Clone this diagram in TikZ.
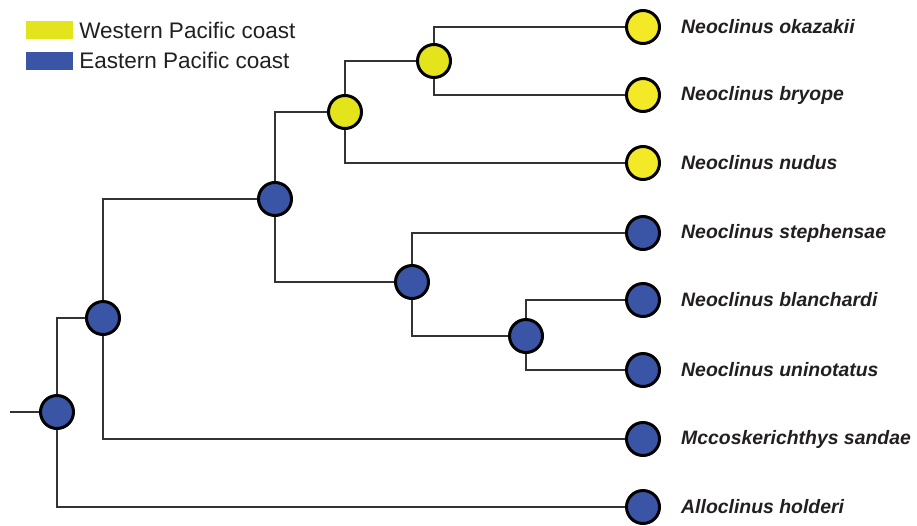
\documentclass[tikz,border=0pt]{standalone}
\usepackage{fontspec}
\setmainfont{Liberation Sans}
\usetikzlibrary{positioning}

\definecolor{westcol}{HTML}{E4E41C}
\definecolor{westtip}{HTML}{F4E926}
\definecolor{eastcol}{HTML}{3A55A5}
\definecolor{branchcol}{HTML}{333333}
\definecolor{textcol}{HTML}{231F20}

\begin{document}
\begin{tikzpicture}[
    x=1pt, y=-1pt,
    state/.style={
        circle, draw=black, line width=3pt,
        minimum size=33pt, inner sep=0pt, fill=#1
    },
    branch/.style={draw=branchcol, line width=2pt},
    species/.style={font=\fontsize{19.4}{21}\selectfont\bfseries\itshape, text=textcol, inner sep=0pt, anchor=west},
    swatch/.style={rectangle, fill=#1, minimum width=47pt, minimum height=18pt, inner sep=0pt},
    legendtext/.style={font=\fontsize{22.5}{24}\selectfont, text=textcol, inner sep=0pt, anchor=west}
]
\useasboundingbox (0,0) rectangle (917,525);

% Legend
\node[swatch=westcol] (wsw) at (49.5,30) {};
\node[legendtext, right=6pt of wsw] (wtxt) {Western Pacific coast};
\node[swatch=eastcol] (esw) at (49.5,60.5) {};
\node[legendtext, right=6pt of esw] (etxt) {Eastern Pacific coast};

% Internal nodes
\node[state=eastcol] (root) at (57,412) {};
\node[state=eastcol] (n1) at (103,318) {};
\node[state=eastcol] (n2) at (275,199) {};
\node[state=westcol] (n3) at (345,112) {};
\node[state=westcol] (n4) at (434,61) {};
\node[state=eastcol] (n5) at (412,282) {};
\node[state=eastcol] (n6) at (526,336) {};

% Tips
\node[state=westtip] (okazakii) at (643,27) {};
\node[state=westtip] (bryope) at (643,95) {};
\node[state=westtip] (nudus) at (643,163) {};
\node[state=eastcol] (stephensae) at (643,233) {};
\node[state=eastcol] (blanchardi) at (643,300) {};
\node[state=eastcol] (uninotatus) at (643,370) {};
\node[state=eastcol] (sandae) at (643,439) {};
\node[state=eastcol] (holderi) at (643,507) {};

% Tip labels
\node[species, right=20pt of okazakii] (lokazakii) {Neoclinus okazakii};
\node[species, right=20pt of bryope] (lbryope) {Neoclinus bryope};
\node[species, right=20pt of nudus] (lnudus) {Neoclinus nudus};
\node[species, right=20pt of stephensae] (lstephensae) {Neoclinus stephensae};
\node[species, right=20pt of blanchardi] (lblanchardi) {Neoclinus blanchardi};
\node[species, right=20pt of uninotatus] (luninotatus) {Neoclinus uninotatus};
\node[species, right=20pt of sandae] (lsandae) {Mccoskerichthys sandae};
\node[species, right=20pt of holderi] (lholderi) {Alloclinus holderi};

% Branches
\coordinate (stem) at (10,412);
\draw[branch] (stem) -- (root);
\draw[branch] (root) |- (n1);
\draw[branch] (root) |- (holderi);
\draw[branch] (n1) |- (n2);
\draw[branch] (n1) |- (sandae);
\draw[branch] (n2) |- (n3);
\draw[branch] (n2) |- (n5);
\draw[branch] (n3) |- (n4);
\draw[branch] (n3) |- (nudus);
\draw[branch] (n4) |- (okazakii);
\draw[branch] (n4) |- (bryope);
\draw[branch] (n5) |- (stephensae);
\draw[branch] (n5) |- (n6);
\draw[branch] (n6) |- (blanchardi);
\draw[branch] (n6) |- (uninotatus);

\end{tikzpicture}
\end{document}
